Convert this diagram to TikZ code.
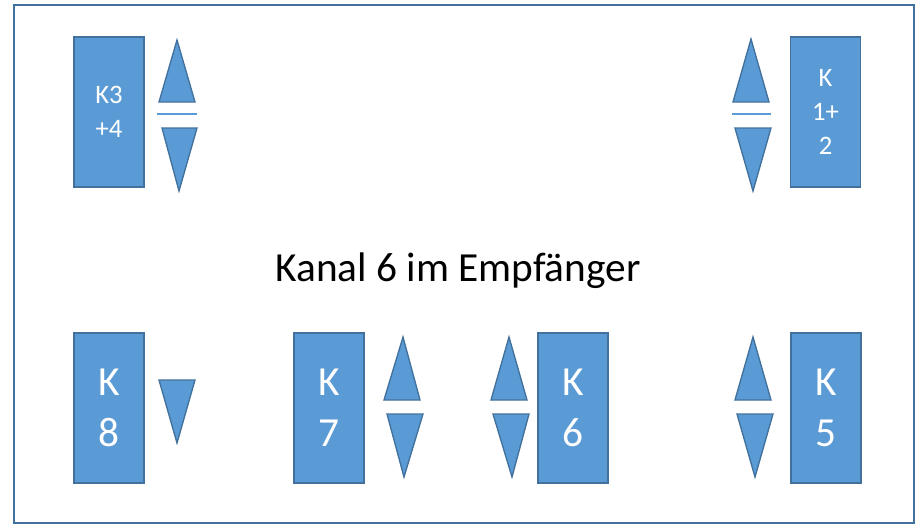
\documentclass[tikz,border=0pt]{standalone}
\usepackage{fontspec}
\setmainfont{Carlito}
\definecolor{kblue}{HTML}{5B9BD5}
\definecolor{kline}{HTML}{41719C}
\tikzset{
  kbox/.style={draw=kline, fill=kblue, line width=1pt, text=white, align=center,
    minimum width=52.5pt, minimum height=112.5pt, inner sep=0pt},
  ktri/.style={draw=kline, fill=kblue, line width=1pt, line join=miter},
  ksmall/.style={font=\fontsize{20}{25.5}\selectfont},
  kbig/.style={font=\fontsize{31}{38}\selectfont}
}
\begin{document}
\begin{tikzpicture}[x=0.75pt, y=-0.75pt]
			%%%%% START %%%%%
			\useasboundingbox (0, 0) rectangle (924, 525);
			\draw[line width=1.6pt, color=kline] (14, 5) rectangle (914, 523);
			
			\node[font=\fontsize{31}{38}\selectfont] (title) at (458, 271) {Kanal 6 im Empf\"anger};
			
			% oben links
			\node[kbox, ksmall] (k34) at (109, 112) {K3\\+4};
			\draw[ktri] (177, 40) -- (195, 102) -- (159, 102) -- cycle;
			\draw[line width=2pt, color=kblue] (157, 114) -- (197, 114);
			\draw[ktri] (162, 128) -- (197, 128) -- (179, 191) -- cycle;
			
			% oben rechts
			\node[kbox, ksmall] (k12) at (825.5, 112) {K\\1+\\2};
			\draw[ktri] (751, 39) -- (769, 102) -- (733, 102) -- cycle;
			\draw[line width=2pt, color=kblue] (732, 114) -- (771, 114);
			\draw[ktri] (735, 128) -- (771, 128) -- (753, 191) -- cycle;
			
			% unten
			\node[kbox, kbig] (k8) at (109, 408) {K\\8};
			\draw[ktri] (159, 380) -- (195, 380) -- (177, 443) -- cycle;
			
			\node[kbox, kbig] (k7) at (329, 408) {K\\7};
			\draw[ktri] (403, 337) -- (420, 400) -- (384, 400) -- cycle;
			\draw[ktri] (387, 414) -- (423, 414) -- (404, 477) -- cycle;
			
			\node[kbox, kbig] (k6) at (573, 408) {K\\6};
			\draw[ktri] (509, 337) -- (527, 400) -- (491, 400) -- cycle;
			\draw[ktri] (493, 414) -- (529, 414) -- (512, 477) -- cycle;
			
			\node[kbox, kbig] (k5) at (826, 408) {K\\5};
			\draw[ktri] (753, 337) -- (771, 400) -- (735, 400) -- cycle;
			\draw[ktri] (737, 414) -- (773, 414) -- (755, 477) -- cycle;
			%%%%% END %%%%%
\end{tikzpicture}
\end{document}
